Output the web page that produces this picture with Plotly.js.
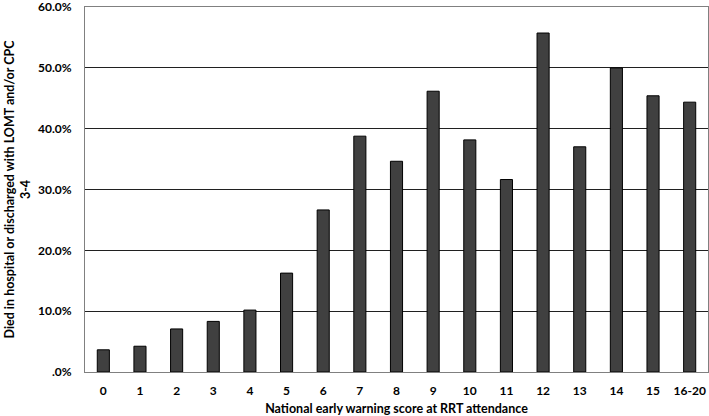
<!DOCTYPE html>
<html>
<head>
<meta charset="utf-8">
<script src="https://cdn.plot.ly/plotly-3.0.1.min.js"></script>
<style>html,body{margin:0;padding:0;background:#fff;}#chart{width:709px;height:416px;}</style>
</head>
<body>
<div id="chart"></div>
<script>
var categories = ["0","1","2","3","4","5","6","7","8","9","10","11","12","13","14","15","16-20"];
var values = [3.65, 4.24, 7.08, 8.32, 10.18, 16.26, 26.65, 38.78, 34.65, 46.17, 38.17, 31.65, 55.74, 37.03, 50.0, 45.42, 44.37];
var yTickVals = [0, 10, 20, 30, 40, 50, 60];
var yTickText = [".0%", "10.0%", "20.0%", "30.0%", "40.0%", "50.0%", "60.0%"];

var fontFam = "Lato, 'Open Sans', sans-serif";
var trace = {
  type: "bar",
  x: categories,
  y: values,
  marker: {color: "#404040", line: {color: "#000", width: 1}},
  hoverinfo: "none"
};
var layout = {
  width: 709, height: 416,
  margin: {l: 85, r: 1, t: 7, b: 44},
  paper_bgcolor: "#fff", plot_bgcolor: "#fff",
  bargap: 0.67,
  showlegend: false,
  font: {family: fontFam, size: 12, color: "#000", weight: "bold"},
  xaxis: {
    type: "category",
    showline: true, mirror: true, linecolor: "#808080", linewidth: 1,
    showgrid: false,
    ticks: "outside", ticklen: 8, tickcolor: "rgba(0,0,0,0)",
    tickfont: {family: fontFam, size: 12, color: "#000", weight: "bold"},
    title: {text: "National early warning score at RRT attendance", font: {family: fontFam, size: 12.5, color: "#000", weight: "bold"}, standoff: 7}
  },
  yaxis: {
    range: [0, 60.02],
    tickvals: yTickVals, ticktext: yTickText,
    ticklabeloverflow: "allow",
    showline: true, mirror: true, linecolor: "#808080", linewidth: 1,
    showgrid: true, gridcolor: "#202020", gridwidth: 1,
    zeroline: false,
    ticks: "outside", ticklen: 10, tickcolor: "rgba(0,0,0,0)",
    tickfont: {family: fontFam, size: 12, color: "#000", weight: "bold"},
    title: {text: "Died in hospital or discharged with LOMT and/or CPC<br>3-4", font: {family: fontFam, size: 12.5, color: "#000", weight: "bold"}, standoff: 4}
  }
};
Plotly.newPlot("chart", [trace], layout, {displayModeBar: false, staticPlot: true});
</script>
</body>
</html>
